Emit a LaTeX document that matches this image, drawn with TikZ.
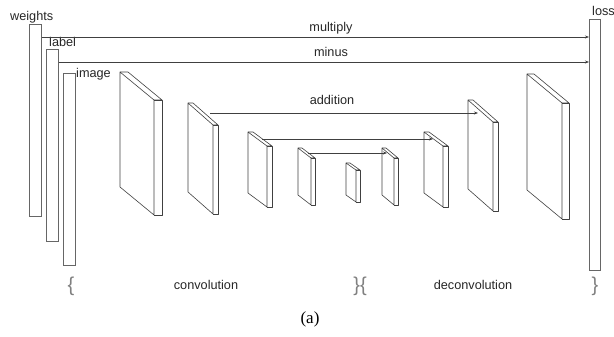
\documentclass[tikz,border=0pt]{standalone}
\usepackage{fontspec}
\setmainfont{Liberation Serif}
\newfontfamily\arialf{Liberation Sans}
\usetikzlibrary{arrows.meta,calc}
\newcommand\slabdraw[7]{%
  \coordinate (#1) at (#2,#3);
  \draw[slab] (#2,#3) -- ++(#4,#5) -- ++(0,#6) -- ++(-#4,-#5) -- cycle;
  \draw[slab] (#2,#3) -- ++(#7,0) -- ++(#4,#5) -- ++(-#7,0);
  \draw[slab] ($(#2,#3)+(#4,#5)$) -- ++(#7,0) -- ++(0,#6) -- ++(-#7,0);
}
\begin{document}
\begin{tikzpicture}[x=1pt,y=-1pt,
  bar/.style={draw=black!60, line width=0.6pt, fill=white, inner sep=0pt, minimum width=12pt, anchor=north west},
  lbl/.style={font=\arialf\fontsize{12.7}{14}\selectfont, inner sep=0pt, text=black!85},
  arr/.style={draw=black!75, line width=0.6pt, -{Stealth[length=4pt,width=3pt]}},
  slab/.style={draw=black!75, line width=0.6pt, line join=round},
  brc/.style={font=\arialf\fontsize{20}{22}\selectfont, text=black!50, inner sep=0pt}
]
\useasboundingbox (0,0) rectangle (614,337);

% tall bars
\node[bar, minimum height=192pt] (weights) at (29,24) {};
\node[bar, minimum height=192pt] (label) at (46,49) {};
\node[bar, minimum height=192pt] (image) at (63,73) {};
\node[bar, minimum width=11pt, minimum height=251pt] (loss) at (589,19) {};

\node[lbl, anchor=base west] (tw) at (10,21) {weights};
\node[lbl, anchor=base west] (tl) at (49,47) {label};
\node[lbl, anchor=base west] (ti) at (76,78) {image};
\node[lbl, anchor=base west] (tloss) at (592,16) {loss};

% long arrows
\coordinate (m1) at ([yshift=-13pt]weights.north east);
\coordinate (m2) at ([yshift=-13pt]label.north east);
\draw[arr] (m1) -- (m1 -| loss.west);
\draw[arr] (m2) -- (m2 -| loss.west);
\node[lbl, anchor=base] (tmul) at (331,32) {multiply};
\node[lbl, anchor=base] (tmin) at (331,57) {minus};

% slabs
\slabdraw{s1}{120}{72}{34}{28}{115}{8}
\slabdraw{s2}{188}{103}{25}{22}{89}{5}
\slabdraw{s3}{248}{132}{19}{14}{61}{5}
\slabdraw{s4}{298}{148}{13}{10}{47}{4}
\slabdraw{s5}{346}{163}{10}{7}{32}{4}
\slabdraw{s6}{382}{148}{12}{10}{47}{4}
\slabdraw{s7}{424}{132}{19}{14}{61}{5}
\slabdraw{s8}{468}{100}{25}{22}{89}{5}
\slabdraw{s9}{527}{74}{35}{29}{116}{7}

% skip connections
\coordinate (a2) at ($(s2)+(22,10)$);
\coordinate (a8) at ($(s8)+(10,13)$);
\coordinate (a3) at ($(s3)+(14,7)$);
\coordinate (a7) at ($(s7)+(9,7)$);
\coordinate (a4) at ($(s4)+(10,5)$);
\coordinate (a6) at ($(s6)+(5,5)$);
\draw[arr] (a2) -- (a8);
\draw[arr] (a3) -- (a7);
\draw[arr] (a4) -- (a6);
\node[lbl, anchor=base] (tadd) at (332,105) {addition};

% bottom labels
\node[brc] (b1) at (71,286) {\{};
\node[brc] (b2) at (360,286) {\}\{};
\node[brc] (b3) at (595,286) {\}};
\node[lbl, anchor=base] (tconv) at (206,289) {convolution};
\node[lbl, anchor=base] (tdeconv) at (473,289) {deconvolution};
\node[font=\fontsize{17}{19}\selectfont, inner sep=0pt] (cap) at (310,319) {(a)};
\end{tikzpicture}
\end{document}
